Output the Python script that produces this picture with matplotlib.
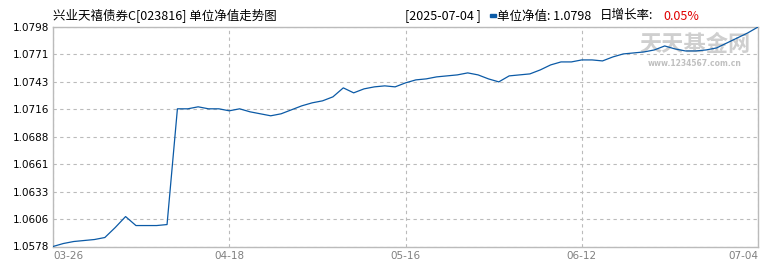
import numpy as np
import matplotlib.pyplot as plt
from matplotlib.patches import Rectangle

# 单位净值, one value per trading day from 03-26 to 07-04
nav = [1.0578, 1.0581, 1.0583, 1.0584, 1.0585, 1.0587, 1.0597, 1.0608, 1.0599, 1.0599,
       1.0599, 1.0600, 1.0716, 1.0716, 1.0718, 1.0716, 1.0716, 1.0714, 1.0716, 1.0713,
       1.0711, 1.0709, 1.0711, 1.0715, 1.0719, 1.0722, 1.0724, 1.0728, 1.0737, 1.0732,
       1.0736, 1.0738, 1.0739, 1.0738, 1.0742, 1.0745, 1.0746, 1.0748, 1.0749, 1.0750,
       1.0752, 1.0750, 1.0746, 1.0743, 1.0749, 1.0750, 1.0751, 1.0755, 1.0760, 1.0763,
       1.0763, 1.0765, 1.0765, 1.0764, 1.0768, 1.0771, 1.0772, 1.0773, 1.0775, 1.0779,
       1.0776, 1.0774, 1.0774, 1.0775, 1.0777, 1.0782, 1.0787, 1.0792, 1.0798]
x_labels = ['03-26', '04-18', '05-16', '06-12', '07-04']
y_ticks = [1.0578, 1.0606, 1.0633, 1.0661, 1.0688, 1.0716, 1.0743, 1.0771, 1.0798]

title = '兴业天禧债券C[023816] 单位净值走势图'
date_txt = '[2025-07-04 ]'
nav_txt = '单位净值: 1.0798'
rate_name = '日增长率:'
rate_txt = '0.05%'

cjk = ['Noto Sans CJK SC', 'DejaVu Sans']
W, H = 770, 270

fig = plt.figure(figsize=(7.7, 2.7), dpi=100)
ax = fig.add_axes([53 / W, 1 - 246.5 / H, 705 / W, 219.5 / H])

xs = np.arange(len(nav))
ax.plot(xs, nav, color='#0b5aa6', lw=0.9, zorder=3)

ax.set_xlim(0, len(nav) - 1)
ax.set_ylim(y_ticks[0], y_ticks[-1])
ax.set_yticks(y_ticks)
ax.set_yticklabels([f'{v:.4f}' for v in y_ticks], fontsize=7.5, family='DejaVu Sans')
xt = np.linspace(0, len(nav) - 1, len(x_labels))
ax.set_xticks(xt)
ax.set_xticklabels(x_labels, fontsize=7.5, color='#808080', family='DejaVu Sans')
lbls = ax.get_xticklabels()
lbls[0].set_ha('left')
lbls[-1].set_ha('right')
ax.tick_params(length=0, pad=3)

ax.grid(True, color='#bbbbbb', ls=(0, (3, 3)), lw=0.8)
for s in ax.spines.values():
    s.set_color('#bbbbbb')
    s.set_linewidth(1)

# watermark
ax.text(0.91, 0.92, '天天基金网', transform=ax.transAxes, ha='center', va='center',
        fontsize=16, color='#cfcfcf', family=cjk, fontweight='bold', zorder=1)
ax.text(0.91, 0.835, 'www.1234567.com.cn', transform=ax.transAxes, ha='center', va='center',
        fontsize=5.5, color='#c0c0c0', family='DejaVu Sans', fontweight='bold', zorder=1)

ty = 1 - 16 / H
fig.text(53 / W, ty, title, fontsize=9, family=cjk, va='center')
fig.text(405 / W, ty, date_txt, fontsize=9, family=cjk, va='center')
fig.patches.append(Rectangle((490 / W, 1 - 17 / H), 6 / W, 3 / H, color='#0b5aa6',
                             transform=fig.transFigure, figure=fig))
fig.text(497 / W, ty, nav_txt, fontsize=9, family=cjk, va='center')
fig.text(600 / W, ty, rate_name, fontsize=9, family=cjk, va='center')
fig.text(663 / W, ty, rate_txt, fontsize=9, family=cjk, va='center', color='#e00000')

fig.savefig('out.png', dpi=100)
